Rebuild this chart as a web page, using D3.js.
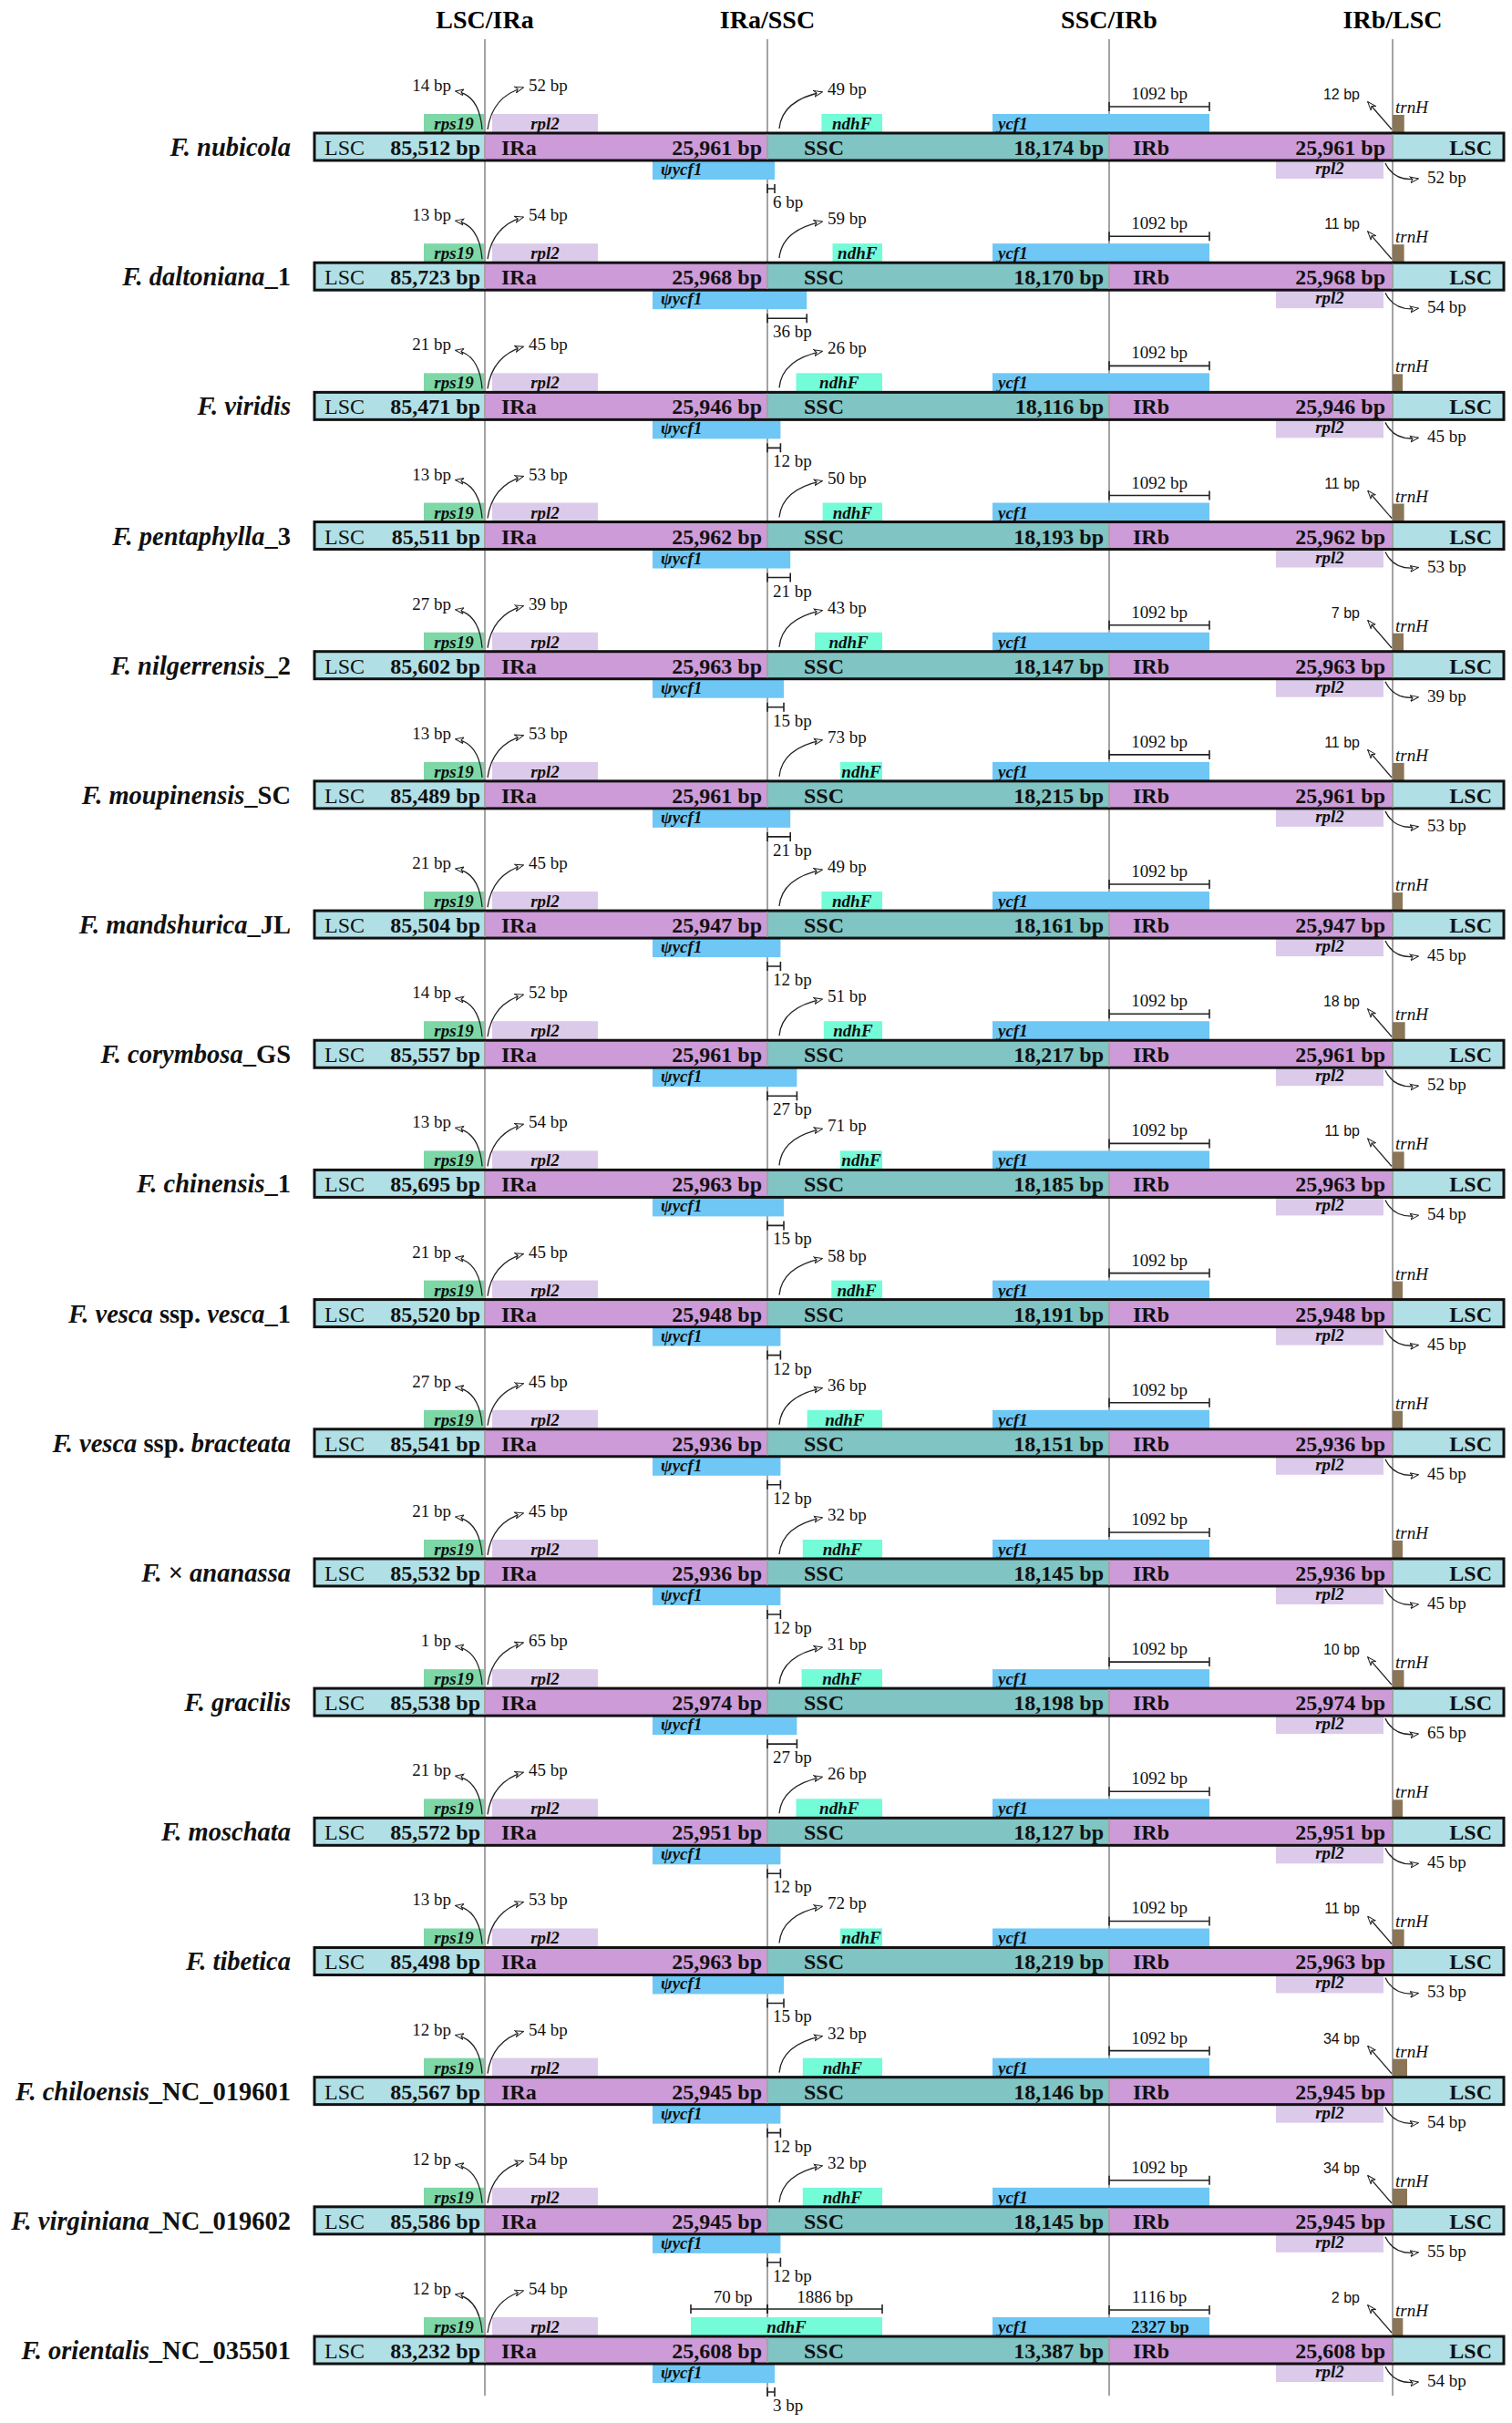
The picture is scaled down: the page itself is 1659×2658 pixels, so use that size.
<!DOCTYPE html>
<html>
<head>
<meta charset="utf-8">
<script src="https://cdn.jsdelivr.net/npm/d3@7"></script>
<style>
  html, body { margin: 0; padding: 0; background: #fff; }
  svg { display: block; }
</style>
</head>
<body>
<script>
// ---------------- DATA ----------------
const titles = ["LSC/IRa", "IRa/SSC", "SSC/IRb", "IRb/LSC"];
const species = ["F. nubicola","F. daltoniana_1","F. viridis","F. pentaphylla_3","F. nilgerrensis_2",
  "F. moupinensis_SC","F. mandshurica_JL","F. corymbosa_GS","F. chinensis_1","F. vesca ssp. vesca_1",
  "F. vesca ssp. bracteata","F. × ananassa","F. gracilis","F. moschata","F. tibetica",
  "F. chiloensis_NC_019601","F. virginiana_NC_019602","F. orientalis_NC_035501"];
const lscLen = [85512,85723,85471,85511,85602,85489,85504,85557,85695,85520,85541,85532,85538,85572,85498,85567,85586,83232];
const irLen  = [25961,25968,25946,25962,25963,25961,25947,25961,25963,25948,25936,25936,25974,25951,25963,25945,25945,25608];
const sscLen = [18174,18170,18116,18193,18147,18215,18161,18217,18185,18191,18151,18145,18198,18127,18219,18146,18145,13387];
const rps19Bp   = [14,13,21,13,27,13,21,14,13,21,27,21,1,21,13,12,12,12];
const rpl2IRaBp = [52,54,45,53,39,53,45,52,54,45,45,45,65,45,53,54,54,54];
const ndhFBp    = [49,59,26,50,43,73,49,51,71,58,36,32,31,26,72,32,32,null];
const psiYcf1Bp = [6,36,12,21,15,21,12,27,15,12,12,12,27,12,15,12,12,3];
const ycf1IRbBp = [1092,1092,1092,1092,1092,1092,1092,1092,1092,1092,1092,1092,1092,1092,1092,1092,1092,1116];
const trnHBp    = [12,11,null,11,7,11,null,18,11,null,null,null,10,null,11,34,34,2];
const rpl2IRbBp = [52,54,45,53,39,53,45,52,54,45,45,45,65,45,53,54,55,54];
const ndhFIRaBp = [null,null,null,null,null,null,null,null,null,null,null,null,null,null,null,null,null,70];
const ndhFSSCBp = [null,null,null,null,null,null,null,null,null,null,null,null,null,null,null,null,null,1886];
const ycf1Len   = [null,null,null,null,null,null,null,null,null,null,null,null,null,null,null,null,null,2327];

// ---------------- LAYOUT ----------------
const W = 1659, H = 2658;
const SERIF = "'Liberation Serif','Times New Roman',Times,serif";
const SANS = "'Liberation Sans',Arial,Helvetica,sans-serif";
const C = {
  LSC: "#b1dfe6", IR: "#cd9bd8", SSC: "#80c4c4",
  rps19: "#7dd7a7", rpl2: "#dccaea", ndhF: "#74fbd8", ycf1: "#6ec7f4", trnH: "#8b7557",
  line: "#a3a3a3"
};
const barH = 30, geneH = 21;

// schematic boundary scale: 0=bar start, 1..4 = junctions, 5 = bar end
const xs = d3.scaleLinear().domain([0,1,2,3,4,5]).range([345,532,842,1217,1528,1650]);
// bp offset scale near junctions (px per bp)
const bp = d3.scaleLinear().domain([0,10]).range([0,12]);
const bpC = d3.scaleLinear().domain([0,66]).range([0,80]).clamp(true);
// row scale (top of each bar)
const ys = d3.scaleLinear().domain([0, species.length-1]).range([146, 2563]);
const trnW = d3.scaleLinear().domain([0,34]).range([11,16]).clamp(true);
const fmt = d3.format(",");

const svg = d3.select("body").append("svg").attr("width", W).attr("height", H)
  .attr("viewBox", `0 0 ${W} ${H}`);

const defs = svg.append("defs");
defs.append("marker").attr("id","arr").attr("viewBox","0 0 10 10")
  .attr("refX",9).attr("refY",5).attr("markerWidth",10).attr("markerHeight",10)
  .attr("markerUnits","userSpaceOnUse").attr("orient","auto")
  .append("path").attr("d","M0,1.5 L9.5,5 L0,8.5 L3,5 Z")
  .attr("fill","#fff").attr("stroke","#222").attr("stroke-width",1);

// titles
svg.append("g").selectAll("text").data(titles).join("text")
  .attr("x",(d,i)=>xs(i+1)).attr("y",31).attr("text-anchor","middle")
  .attr("font-family",SERIF).attr("font-weight","bold").attr("font-size",28)
  .text(d=>d);

// junction lines
svg.append("g").selectAll("line").data([1,2,3,4]).join("line")
  .attr("x1",d=>xs(d)).attr("x2",d=>xs(d)).attr("y1",43).attr("y2",2628)
  .attr("stroke",C.line).attr("stroke-width",2);

const rowsIdx = d3.range(species.length);
const rows = svg.append("g").selectAll("g.row").data(rowsIdx).join("g").attr("class","row");

function txt(g, x, y, s, o) {
  o = o || {};
  return g.append("text").attr("x",x).attr("y",y)
    .attr("text-anchor",o.anchor||"start")
    .attr("font-family",o.family||SERIF)
    .attr("font-weight",o.weight||"normal")
    .attr("font-style",o.style||"normal")
    .attr("font-size",o.size||19)
    .attr("fill","#111").text(s);
}
function box(g, x0, x1, y, h, fill) {
  g.append("rect").attr("x",x0).attr("y",y).attr("width",Math.max(0,x1-x0)).attr("height",h).attr("fill",fill);
}
function bracket(g, x0, x1, y) {
  g.append("path").attr("d",`M${x0},${y-5}V${y+5}M${x1},${y-5}V${y+5}M${x0},${y}H${x1}`)
    .attr("stroke","#222").attr("stroke-width",1.6).attr("fill","none");
}
function arrow(g, d) {
  g.append("path").attr("d",d).attr("fill","none").attr("stroke","#222")
    .attr("stroke-width",1.3).attr("marker-end","url(#arr)");
}
function nameParts(s) {
  const k = s.indexOf("_");
  const main = k >= 0 ? s.slice(0,k) : s;
  const suf = k >= 0 ? s.slice(k) : "";
  const parts = main.split(/(ssp\.|×)/).filter(p=>p.length)
    .map(p => ({t:p, it: !(p==="ssp." || p==="×")}));
  if (suf) parts.push({t:suf, it:false});
  return parts;
}

rows.each(function(i) {
  const g = d3.select(this);
  const top = ys(i), bot = top + barH;
  const J1 = xs(1), J2 = xs(2), J3 = xs(3), J4 = xs(4);

  // species name
  const nt = g.append("text").attr("x",319).attr("y",top+25).attr("text-anchor","end")
    .attr("font-family",SERIF).attr("font-weight","bold").attr("font-size",28.5).attr("fill","#111");
  nameParts(species[i]).forEach(p => nt.append("tspan").attr("font-style",p.it?"italic":"normal").text(p.t));

  // ---- upper gene boxes ----
  box(g, J1-67, J1-1, top-geneH, geneH, C.rps19);
  box(g, J1+8, J1+124, top-geneH, geneH, C.rpl2);
  let ndL, ndR = J2+126;
  if (ndhFIRaBp[i] != null) ndL = J2 - bp(ndhFIRaBp[i]); else ndL = J2 + bpC(ndhFBp[i]);
  box(g, ndL, ndR, top-geneH, geneH, C.ndhF);
  box(g, J3-128, J3+110, top-geneH, geneH, C.ycf1);
  box(g, J4, J4 + trnW(trnHBp[i]||0), top-geneH+1, geneH-1, C.trnH);

  // ---- lower gene boxes ----
  const psiR = J2 + Math.max(bp(psiYcf1Bp[i]), 8);
  box(g, J2-126, psiR, bot, geneH, C.ycf1);
  box(g, J4-128, J4-10, bot, geneH-1, C.rpl2);

  // ---- bar ----
  const segs = [[0,1,C.LSC],[1,2,C.IR],[2,3,C.SSC],[3,4,C.IR],[4,5,C.LSC]];
  segs.forEach(s => box(g, xs(s[0]), xs(s[1]), top, barH, s[2]));
  g.append("rect").attr("x",xs(0)).attr("y",top).attr("width",xs(5)-xs(0)).attr("height",barH)
    .attr("fill","none").attr("stroke","#111").attr("stroke-width",3);
  [J1,J2,J3,J4].forEach(x => g.append("line").attr("x1",x).attr("x2",x).attr("y1",top+1.5).attr("y2",bot-1.5)
    .attr("stroke",C.line).attr("stroke-width",2));

  // bar texts
  const by = top + 24;
  txt(g, xs(0)+11, by, "LSC", {size:24});
  txt(g, J1-5, by, fmt(lscLen[i])+" bp", {size:24, weight:"bold", anchor:"end"});
  txt(g, J1+18, by, "IRa", {size:24, weight:"bold"});
  txt(g, J2-6, by, fmt(irLen[i])+" bp", {size:24, weight:"bold", anchor:"end"});
  txt(g, J2+40, by, "SSC", {size:24, weight:"bold"});
  txt(g, J3-6, by, fmt(sscLen[i])+" bp", {size:24, weight:"bold", anchor:"end"});
  txt(g, J3+26, by, "IRb", {size:24, weight:"bold"});
  txt(g, J4-8, by, fmt(irLen[i])+" bp", {size:24, weight:"bold", anchor:"end"});
  txt(g, xs(5)-13, by, "LSC", {size:24, weight:"bold", anchor:"end"});

  // gene labels
  const gl = {size:19, weight:"bold", style:"italic", anchor:"middle"};
  txt(g, J1-34, top-4, "rps19", gl);
  txt(g, J1+66, top-4, "rpl2", gl);
  txt(g, (ndL+ndR)/2, top-4, "ndhF", gl);
  txt(g, J3-122, top-4, "ycf1", {size:19, weight:"bold", style:"italic"});
  txt(g, J2-117, bot+16, "ψycf1", {size:19, weight:"bold", style:"italic"});
  txt(g, J4-69, bot+15, "rpl2", gl);
  txt(g, J4+3, top-22, "trnH", {size:19, style:"italic"});
  if (ycf1Len[i] != null) txt(g, J3+56, top-4, ycf1Len[i]+" bp", {size:19, weight:"bold", anchor:"middle"});

  // ---- LSC/IRa arrows ----
  arrow(g, `M${J1-3},${top-4} Q${J1-6},${top-42} ${J1-32},${top-46}`);
  txt(g, J1-37, top-46, rps19Bp[i]+" bp", {anchor:"end"});
  arrow(g, `M${J1+3},${top-4} Q${J1+8},${top-40} ${J1+42},${top-50}`);
  txt(g, J1+48, top-46, rpl2IRaBp[i]+" bp");

  // ---- IRa/SSC ----
  if (ndhFBp[i] != null) {
    arrow(g, `M${J2+13},${top-5} Q${J2+16},${top-36} ${J2+60},${top-45}`);
    txt(g, J2+66, top-42, ndhFBp[i]+" bp");
  } else {
    bracket(g, ndL, J2, top-30);
    txt(g, (ndL+J2)/2+4, top-37, ndhFIRaBp[i]+" bp", {anchor:"middle"});
    const r = J2 + 126;
    bracket(g, J2, r, top-30);
    txt(g, (J2+r)/2, top-37, ndhFSSCBp[i]+" bp", {anchor:"middle"});
  }
  bracket(g, J2, psiR, bot+31);
  txt(g, J2+6, bot+52, psiYcf1Bp[i]+" bp");

  // ---- SSC/IRb ----
  bracket(g, J3, J3+110, top-29);
  txt(g, J3+55, top-37, ycf1IRbBp[i]+" bp", {anchor:"middle"});

  // ---- IRb/LSC ----
  if (trnHBp[i] != null) {
    arrow(g, `M${J4-1},${top-4} L${J4-27},${top-34}`);
    txt(g, J4-36, top-37, trnHBp[i]+" bp", {family:SANS, size:16, anchor:"end"});
  }
  arrow(g, `M${J4-8},${bot+3} Q${J4+2},${bot+24} ${J4+28},${bot+20}`);
  txt(g, J4+38, bot+25, rpl2IRbBp[i]+" bp");
});
</script>
</body>
</html>
